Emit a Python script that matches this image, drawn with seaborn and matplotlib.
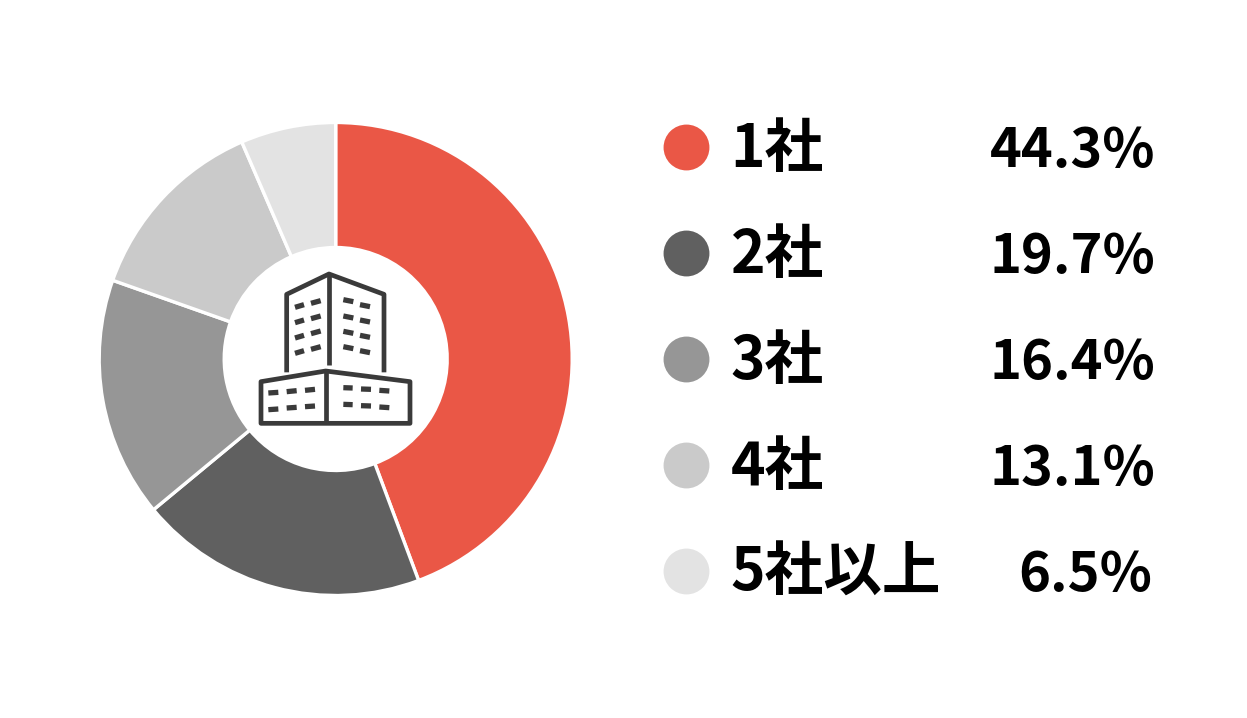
import matplotlib
matplotlib.use("Agg")
import matplotlib.pyplot as plt
import seaborn as sns

categories = ["1社", "2社", "3社", "4社", "5社以上"]
values = [44.3, 19.7, 16.4, 13.1, 6.5]
value_labels = ["44.3%", "19.7%", "16.4%", "13.1%", "6.5%"]
colors = ["#EA5746", "#606060", "#969696", "#CACACA", "#E3E3E3"]

sns.set_theme(style="white")
plt.rcParams['font.family'] = ['Noto Sans CJK JP', 'DejaVu Sans']

W, H = 1247, 718
fig = plt.figure(figsize=(W / 100, H / 100), dpi=100, facecolor="white")
ax = fig.add_axes([0, 0, 1, 1])
palette = sns.color_palette(colors)

ax.pie(values, colors=palette, startangle=90, counterclock=False,
       center=(335.7, H - 359), radius=236.5, frame=True,
       wedgeprops=dict(width=125, edgecolor="white", linewidth=2.4))
ax.set_xlim(0, W)
ax.set_ylim(0, H)
ax.set_aspect("equal")
ax.axis("off")

# legend rows
row_y = [146.5, 252.5, 358.5, 464.5, 570.5]
right_x = [1155, 1155, 1155, 1155, 1152]
for y, cat, lab, c, rx in zip(row_y, categories, value_labels, palette, right_x):
    ax.scatter([686], [H - y], s=1090, color=c, linewidths=0)
    ax.text(730.5, H - y - 20.5, cat, fontsize=42.2, fontweight="bold", color="black",
            ha="left", va="baseline")
    ax.text(rx, H - y - 20.5, lab, fontsize=39, fontweight="bold", color="black",
            ha="right", va="baseline")

# building icon (decoration), coordinates measured in a 3x crop
ICON = "#3A3A3A"
def tx(z):
    return 240 + z / 3
def ty(z):
    return H - (260 + z / 3)
def stroke(pts, lw=3.4):
    xs = [tx(p[0]) for p in pts]
    ys = [ty(p[1]) for p in pts]
    ax.plot(xs, ys, color=ICON, lw=lw, solid_joinstyle="round", solid_capstyle="butt")

stroke([(140, 337), (140, 103), (267, 42), (432, 103), (432, 337)])
stroke([(267, 42), (267, 316)])
stroke([(257, 490), (63, 490), (63, 365), (257, 333), (510, 365), (510, 490), (257, 490)])
stroke([(257, 333), (257, 490)])
win = [
    (165, 192, 142, 134), (213, 242, 130, 122),
    (165, 192, 188, 180), (213, 242, 176, 168),
    (165, 192, 234, 226), (213, 242, 221, 213),
    (165, 192, 280, 272), (213, 242, 268, 260),
    (310, 340, 119, 125), (360, 390, 134, 140),
    (310, 340, 168, 174), (360, 390, 180, 186),
    (310, 340, 214, 220), (360, 390, 226, 232),
    (310, 340, 260, 266), (360, 390, 272, 278),
    (85, 115, 399, 397), (140, 170, 395, 392), (195, 225, 391, 388),
    (85, 115, 449, 447), (140, 170, 444, 442), (195, 225, 440, 438),
    (310, 338, 383, 384), (363, 393, 387, 388), (418, 448, 391, 393),
    (310, 338, 433, 434), (363, 393, 437, 438), (418, 448, 441, 443),
]
for x0, x1, y0, y1 in win:
    stroke([(x0, y0), (x1, y1)], lw=3.8)

fig.savefig("out.png", dpi=100, facecolor="white")
